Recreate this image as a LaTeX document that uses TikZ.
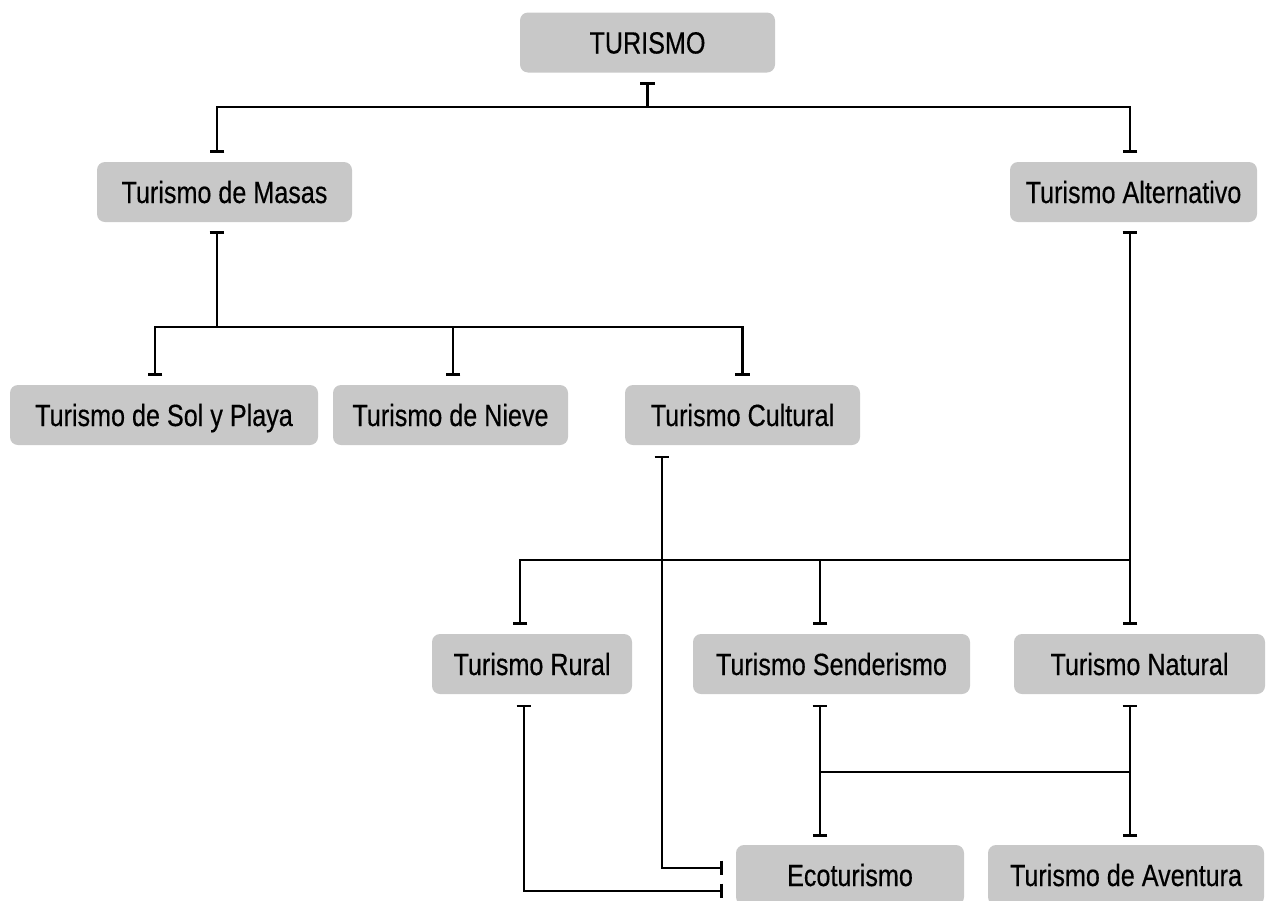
\documentclass[tikz,border=0pt]{standalone}
\usepackage{fontspec}
\setmainfont[FakeStretch=0.82,FakeBold=0.4]{Liberation Sans}
\usetikzlibrary{arrows.meta,calc}

\tikzset{every picture/.style={line width=1.8pt}}
\tikzset{
  caja/.style={fill={rgb, 255:red, 200; green, 200; blue, 200 }, rounded corners=6pt, minimum height=45pt, inner sep=0pt, text height=16.5pt, text depth=0pt, font=\fontsize{23}{26}\selectfont},
  tope/.style={-{Bar[width=11pt,line width=2.2pt]}, shorten >=6pt},
  topeini/.style={{Bar[width=11pt,line width=2.2pt]}-, shorten <=6pt},
  topes/.style={{Bar[width=11pt,line width=2.2pt]}-{Bar[width=11pt,line width=2.2pt]}, shorten <=7pt, shorten >=5pt},
}

\begin{document}
\begin{tikzpicture}[x=0.75pt,y=0.75pt,yscale=-1,xscale=1]
\useasboundingbox (0,0) rectangle (1269,900);

% Text Node
\node [caja, minimum width=191.25pt] (turismo) at (647.5,42.5) {TURISMO};
% Text Node
\node [caja, minimum width=191.25pt] (masas) at (224.5,192) {Turismo de Masas};
% Text Node
\node [caja, minimum width=185.25pt] (alternativo) at (1133.5,192) {Turismo Alternativo};
% Text Node
\node [caja, minimum width=231pt] (sol) at (164,415) {Turismo de Sol y Playa};
% Text Node
\node [caja, minimum width=176.25pt] (nieve) at (450.5,415) {Turismo de Nieve};
% Text Node
\node [caja, minimum width=176.25pt] (cultural) at (742.5,415) {Turismo Cultural};
% Text Node
\node [caja, minimum width=150pt] (rural) at (532,664) {Turismo Rural};
% Text Node
\node [caja, minimum width=207.75pt] (senderismo) at (831.5,664) {Turismo Senderismo};
% Text Node
\node [caja, minimum width=188.25pt] (natural) at (1139.5,664) {Turismo Natural};
% Text Node
\node [caja, minimum width=171pt] (ecoturismo) at (850,875) {Ecoturismo};
% Text Node
\node [caja, minimum width=207pt] (aventura) at (1126,875) {Turismo de Aventura};

% junctions
\coordinate (j0) at (647.5,107);
\coordinate (j1) at (217,327);
\coordinate (j2) at (1130,560);
\coordinate (j3) at (1130,772);
\coordinate (s1) at ($(senderismo.south)+(-11.5,0)$);
\coordinate (n1) at ($(natural.south)+(-9.5,0)$);
\coordinate (c1) at ($(cultural.south)+(-80.5,0)$);
\coordinate (r1) at ($(rural.south)+(-8,0)$);

%Straight Lines
\draw [topeini] (turismo.south) -- (j0);
\draw [tope] (j0) -| ($(masas.north)+(-7.5,0)$);
\draw [tope] (j0) -| ($(alternativo.north)+(-3.5,0)$);

%Straight Lines
\draw [topeini] ($(masas.south)+(-7.5,0)$) -- (j1);
\draw [tope] (j1) -| ($(sol.north)+(-9,0)$);
\draw [tope] (j1) -| ($(nieve.north)+(2.5,0)$);
\draw [tope] (j1) -| (cultural.north);

%Straight Lines
\draw [topeini] ($(alternativo.south)+(-3.5,0)$) -- (j2);
\draw [tope] (j2) -| ($(rural.north)+(-12,0)$);
\draw [tope] (j2) -| ($(senderismo.north)+(-11.5,0)$);
\draw [tope] (j2) -| ($(natural.north)+(-9.5,0)$);

%Straight Lines
\draw [topes] (s1) -- (s1 |- ecoturismo.north);
\draw [topes] (n1) -- (n1 |- aventura.north);
\draw (j3) -- (j3 -| s1);

%Straight Lines
\draw [topes, shorten >=9pt] (c1) |- ($(ecoturismo.west)+(0,-7)$);
\draw [topes, shorten >=9pt] (r1) |- ($(ecoturismo.west)+(0,16)$);

\end{tikzpicture}
\end{document}
